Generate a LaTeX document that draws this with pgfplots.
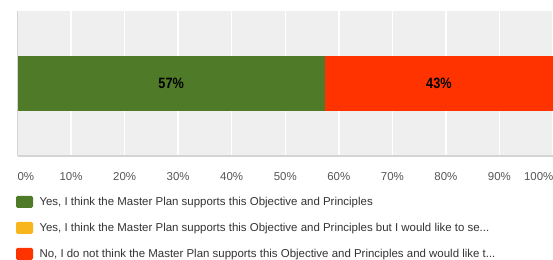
\documentclass[border=0pt]{standalone}
\usepackage{pgfplots}
\pgfplotsset{compat=1.18}
\usepackage{fontspec}
\setmainfont{Liberation Sans}
\usepackage{graphicx}
\definecolor{cgreen}{HTML}{4F7A28}
\definecolor{cyellow}{HTML}{F9B51C}
\definecolor{cred}{HTML}{FF3300}
\definecolor{bgc}{HTML}{EFEFEF}
\definecolor{axc}{HTML}{D4D4D4}
\definecolor{tickc}{HTML}{555555}
\definecolor{txt}{HTML}{333333}
\pgfplotsset{geom/.style={at={(17.5bp,103bp)}, anchor=south west,
  scale only axis, width=535.5bp, height=145bp,
  xmin=0, xmax=100, ymin=-1, ymax=1}}
\begin{document}
\begin{tikzpicture}[x=1bp,y=1bp]
\useasboundingbox (0,0) rectangle (553,259);
\clip (0,0) rectangle (553,259);
\begin{axis}[
  geom,
  xbar stacked, bar width=54.5bp, bar shift=0pt,
  ytick=\empty,
  xtick={0,10,20,30,40,50,60,70,80,90,100},
  xticklabels={\makebox[0pt][l]{0\%},10\%,20\%,30\%,40\%,50\%,60\%,70\%,80\%,90\%,\makebox[0pt][l]{\hspace*{-29bp}100\%}},
  xticklabel style={font=\fontsize{11.5}{12}\selectfont, text=tickc, anchor=base, yshift=-24.7bp},
  /pgf/number format/assume math mode=true,
  major tick length=0pt,
  xmajorgrids, major grid style={white, line width=1.5bp},
  axis background/.style={fill=bgc},
  axis line style={draw=none},
  legend style={at={(rel axis cs:0,0)}, anchor=north west, xshift=-1.5bp, yshift=-39.8bp,
    draw=none, fill=none, inner sep=0pt, outer sep=0pt, row sep=14bp,
    font=\fontsize{11.5}{13}\selectfont, text=txt, nodes={inner sep=0pt},
    /tikz/every odd column/.append style={column sep=6.5bp}},
  legend cell align=left,
]
\addplot[fill=cgreen, draw=none,
  legend image code/.code={\fill[cgreen, rounded corners=1.5bp] (0bp,-6bp) rectangle (17bp,6bp);}]
  coordinates {(57.4,0)};
\addlegendentry{Yes, I think the Master Plan supports this Objective and Principles}
\addplot[fill=cyellow, draw=none,
  legend image code/.code={\fill[cyellow, rounded corners=1.5bp] (0bp,-6bp) rectangle (17bp,6bp);}]
  coordinates {(0,0)};
\addlegendentry{Yes, I think the Master Plan supports this Objective and Principles but I would like to se...}
\addplot[fill=cred, draw=none,
  legend image code/.code={\fill[cred, rounded corners=1.5bp] (0bp,-6bp) rectangle (17bp,6bp);}]
  coordinates {(42.6,0)};
\addlegendentry{No, I do not think the Master Plan supports this Objective and Principles and would like t...}
\end{axis}
\begin{axis}[geom, hide axis, clip=false]
\draw[axc, line width=1.5bp] (rel axis cs:0,0) -- (rel axis cs:0,1);
\draw[axc, line width=1.5bp] (rel axis cs:0,0) -- (rel axis cs:1,0);
\node[font=\bfseries\fontsize{15}{15}\selectfont, text=black] at (axis cs:28.7,0) {\scalebox{0.85}[1]{57\%}};
\node[font=\bfseries\fontsize{15}{15}\selectfont, text=black] at (axis cs:78.7,0) {\scalebox{0.85}[1]{43\%}};
\end{axis}
\end{tikzpicture}
\end{document}
